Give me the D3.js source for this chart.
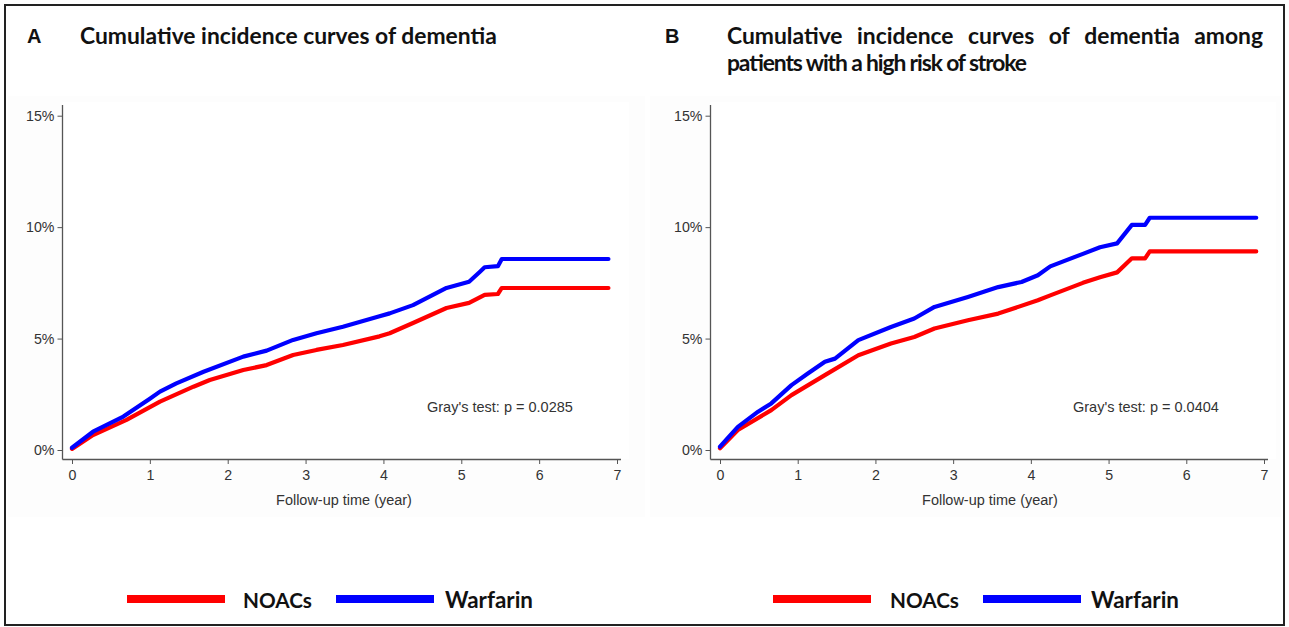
<!DOCTYPE html>
<html><head><meta charset="utf-8">
<script src="https://cdn.jsdelivr.net/npm/d3@7"></script>
<style>body{margin:0;background:#fff}</style>
</head><body>
<svg id="c" width="1289" height="627"></svg>
<script>
// ---------- data ----------
const years = [0, 1, 2, 3, 4, 5, 6, 7];
const yTicks = [0, 5, 10, 15];
const seriesNames = ["NOACs", "Warfarin"];
const seriesColors = ["#ff0000", "#0000ff"];

// [follow-up year, cumulative incidence %]
const aNOACs = [[0,0.05],[0.27,0.67],[0.7,1.35],[1.13,2.17],[1.56,2.84],[1.77,3.14],[2.2,3.59],[2.5,3.81],[2.84,4.26],[3.14,4.49],[3.48,4.71],[3.95,5.1],[4.08,5.24],[4.38,5.7],[4.81,6.37],[5.1,6.6],[5.3,6.96],[5.47,7.0],[5.52,7.27],[6.89,7.27]];
const aWarfarin = [[0,0.1],[0.27,0.82],[0.66,1.5],[1.0,2.3],[1.13,2.62],[1.34,2.99],[1.69,3.51],[2.2,4.19],[2.5,4.46],[2.84,4.94],[3.14,5.24],[3.48,5.53],[3.95,6.0],[4.08,6.13],[4.38,6.5],[4.81,7.27],[5.1,7.55],[5.24,8.0],[5.3,8.2],[5.47,8.25],[5.52,8.57],[6.89,8.57]];
const bNOACs = [[0,0.08],[0.23,0.9],[0.66,1.79],[0.92,2.46],[1.35,3.36],[1.78,4.25],[2.2,4.78],[2.5,5.07],[2.76,5.45],[3.19,5.82],[3.58,6.12],[4.09,6.72],[4.25,6.94],[4.67,7.5],[4.89,7.75],[5.11,7.97],[5.3,8.6],[5.47,8.6],[5.53,8.91],[6.9,8.91]];
const bWarfarin = [[0,0.15],[0.23,1.04],[0.49,1.72],[0.66,2.09],[0.92,2.91],[1.13,3.43],[1.35,3.96],[1.48,4.1],[1.78,4.93],[2.2,5.52],[2.5,5.9],[2.76,6.42],[3.19,6.87],[3.58,7.31],[3.88,7.54],[4.09,7.84],[4.25,8.24],[4.67,8.8],[4.89,9.1],[5.11,9.27],[5.3,10.1],[5.47,10.1],[5.53,10.42],[6.9,10.42]];

const letterA = "A", letterB = "B";
const titleA = ["Cumulative incidence curves of dementia"];
const titleB = ["Cumulative incidence curves of dementia among", "patients with a high risk of stroke"];
const testA = "Gray's test: p = 0.0285";
const testB = "Gray's test: p = 0.0404";
const xTitle = "Follow-up time (year)";

// ---------- drawing ----------
const svg = d3.select("#c");
const SANS = "'Liberation Sans', Arial, sans-serif";
const TITLEF = "Lato, 'Open Sans', sans-serif";

svg.append("rect").attr("width",1289).attr("height",627).attr("fill","#fff");

function fitWidth(sel, target) {
  const w = sel.node().getComputedTextLength();
  const fs = parseFloat(sel.attr("font-size"));
  sel.attr("font-size", fs * target / w);
  return fs * target / w;
}

const panels = [
  {letter: letterA, title: titleA, justify: false, test: testA, series: [aNOACs, aWarfarin],
   axisX: 62.5, xr: [72, 617], xEnd: 621, titleX: 80, titleW: [417], testX: 427, xTitleX: 344,
   legend: [127, 243, 336, 445], region: [8, 645]},
  {letter: letterB, title: titleB, justify: true, test: testB, series: [bNOACs, bWarfarin],
   axisX: 710.5, xr: [720, 1264], xEnd: 1268, titleX: 727, titleW: [536, 300], testX: 1073, xTitleX: 990,
   legend: [773, 890, 983, 1091], region: [650, 1281]}
];
const letterX = [27, 665];
let titleSize = 21;

panels.forEach((p, i) => {
  const g = svg.append("g");
  g.append("rect").attr("x", p.region[0]).attr("y", 96).attr("width", p.region[1]-p.region[0]).attr("height", 421).attr("fill", "#fdfdfd");
  g.append("rect").attr("x", p.axisX).attr("y", 102).attr("width", p.xEnd - p.axisX + 8).attr("height", 357).attr("fill", "#fff");

  const x = d3.scaleLinear().domain([0, 7]).range(p.xr);
  const y = d3.scaleLinear().domain([0, 15]).range([450, 115.7]);

  g.append("text").attr("x", letterX[i]).attr("y", 43).attr("font-family", SANS).attr("font-weight", "bold")
    .attr("font-size", 20).attr("fill", "#111").text(p.letter);

  // title
  if (p.justify) {
    const words = p.title[0].split(" ");
    const tmp = words.map(w => g.append("text").attr("font-family", TITLEF).attr("font-weight", "bold")
      .attr("font-size", titleSize).attr("fill", "#111").attr("y", 44).text(w));
    const widths = tmp.map(t => t.node().getComputedTextLength());
    const gap = (p.titleW[0] - d3.sum(widths)) / (words.length - 1);
    let cx = p.titleX;
    tmp.forEach((t, k) => { t.attr("x", cx); cx += widths[k] + gap; });
    const t2 = g.append("text").attr("x", p.titleX).attr("y", 71).attr("font-family", TITLEF).attr("font-weight", "bold")
      .attr("font-size", titleSize).attr("fill", "#111").text(p.title[1]);
    if (t2.node().getComputedTextLength() > p.titleW[1])
      t2.attr("textLength", p.titleW[1]).attr("lengthAdjust", "spacing");
  } else {
    const t = g.append("text").attr("x", p.titleX).attr("y", 44).attr("font-family", TITLEF).attr("font-weight", "bold")
      .attr("font-size", 21).attr("fill", "#111").text(p.title[0]);
    titleSize = fitWidth(t, p.titleW[0]);
  }

  // axes
  const ya = d3.axisLeft(y).tickValues(yTicks).tickFormat(d => d + "%").tickSize(5).tickPadding(3);
  const yg = g.append("g").attr("transform", `translate(${p.axisX},0)`).call(ya);
  const xa = d3.axisBottom(x).tickValues(years).tickFormat(d3.format("d")).tickSize(5).tickPadding(6);
  const xg = g.append("g").attr("transform", `translate(0,459)`).call(xa);
  [yg, xg].forEach(a => {
    a.select(".domain").remove();
    a.selectAll("line").attr("stroke", "#555").attr("stroke-width", 1);
    a.selectAll("text").attr("font-family", SANS).attr("font-size", 14.2).attr("fill", "#333");
  });
  g.append("line").attr("x1", p.axisX).attr("x2", p.axisX).attr("y1", 105).attr("y2", 459.5).attr("stroke", "#555").attr("stroke-width", 1.3);
  g.append("line").attr("x1", p.axisX).attr("x2", p.xEnd).attr("y1", 459.5).attr("y2", 459.5).attr("stroke", "#555").attr("stroke-width", 1.3);

  const xt = g.append("text").attr("x", p.xTitleX).attr("y", 505).attr("text-anchor", "middle").attr("font-family", SANS)
    .attr("font-size", 14).attr("fill", "#333").text(xTitle);
  fitWidth(xt, 136);

  // curves
  const line = d3.line().x(d => x(d[0])).y(d => y(d[1])).curve(d3.curveLinear);
  p.series.forEach((s, k) => {
    g.append("path").datum(s).attr("d", line).attr("fill", "none").attr("stroke", seriesColors[k])
      .attr("stroke-width", 4.2).attr("stroke-linejoin", "round").attr("stroke-linecap", "round");
  });

  const tt = g.append("text").attr("x", p.testX).attr("y", 412).attr("font-family", SANS).attr("font-size", 14)
    .attr("fill", "#333").text(p.test);
  fitWidth(tt, 146);

  // legend
  seriesNames.forEach((nm, k) => {
    const lx = p.legend[k * 2], tx = p.legend[k * 2 + 1];
    g.append("rect").attr("x", lx).attr("y", 595).attr("width", 98).attr("height", 8).attr("fill", seriesColors[k]);
    const t = g.append("text").attr("x", tx).attr("y", 608).attr("font-family", TITLEF).attr("font-weight", "bold")
      .attr("font-size", 22).attr("fill", "#111").text(nm);
    fitWidth(t, k === 0 ? 69 : 88);
  });
});

svg.append("rect").attr("x", 5).attr("y", 5).attr("width", 1279).attr("height", 620)
  .attr("fill", "none").attr("stroke", "#222").attr("stroke-width", 2);
</script>
</body></html>
